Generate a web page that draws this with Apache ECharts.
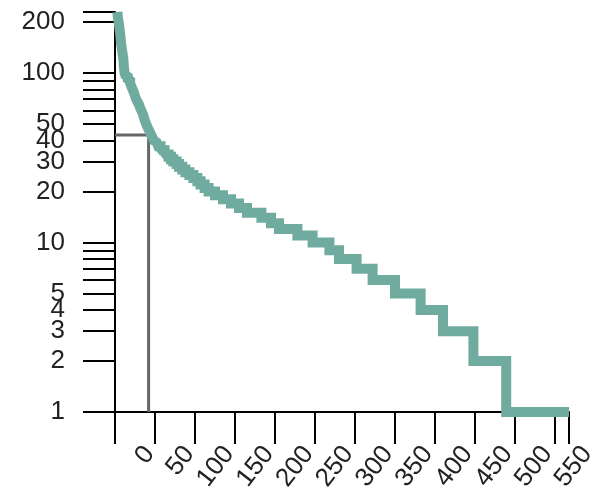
<!DOCTYPE html>
<html><head><meta charset="utf-8">
<script src="https://cdn.jsdelivr.net/npm/echarts@6/dist/echarts.min.js"></script>
<style>html,body{margin:0;padding:0;background:#fff;}#c{width:599px;height:494px;}</style>
</head><body><div id="c"></div>
<script>
// Step line: x = start of each plateau, y = value on that plateau
const rankX = [-47,-46.5,-45.5,-44.5,-43.5,-43,-42.5,-41.5,-40.5,-39.5,-39,-38,-37,-36,-34,-32.5,-31,-30,-29,-28,-26.5,-25.5,-24.5,-23.5,-21.5,-20,-18.5,-17,-15,-14,-12.5,-11,-9.5,-8.5,-7.5,-6.5,-5.5,-4.5,-3.5,-2.5,-1.5,0,2,4,7,9,12,14,17,20,23,27,30,34,38,43,48,53,57,62,67,75,85,95,105,115,133,145,155,178,197,218,230,252,272,300,332,360,398,439,517.5];
const countY = [229,215,200,185,170,160,150,140,130,120,110,100,97,95,92,90,87,85,82,80,77,75,72,70,67,65,62,60,57,55,52,50,48,47,46,45,44,43,42,41,40,39,38,37,36,35,34,33,32,31,30,29,28,27,26,25,24,23,22,21,20,19,18,17,16,15,14,13,12,11,10,9,8,7,6,5,4,3,2,1,1];
// Gray marker line
const markerX = [-50, -8, -8];
const markerY = [43, 43, 1];
// Axes
const xMin = -50, xMax = 517.5;
const xTickValues = [-50,0,50,100,150,200,250,300,350,400,450,500,517.5];
const xLabelValues = [0,50,100,150,200,250,300,350,400,450,500,550];
const yMax = 229;
const yTickValues = [1,2,3,4,5,6,7,8,9,10,20,30,40,50,60,70,80,90,100,200,229];
const yLabelValues = [1,2,3,4,5,10,20,30,40,50,100,200];

const lg = v => Math.log10(v);
const FONT = 'Liberation Sans';
const chart = echarts.init(document.getElementById('c'), null, {renderer:'canvas'});
chart.setOption({
  animation: false,
  backgroundColor: '#fff',
  grid: [
    {left: 115, top: 12, width: 454, height: 400},
    {left: 120, top: 12, width: 480, height: 400}
  ],
  xAxis: [
    {type:'value', gridIndex:0, min:xMin, max:xMax,
     axisLine:{show:true, onZero:false, lineStyle:{color:'#000', width:2}},
     axisTick:{show:true, length:32, customValues:xTickValues, lineStyle:{color:'#000', width:2}},
     axisLabel:{show:false}, splitLine:{show:false}},
    {type:'value', gridIndex:1, min:-50, max:550,
     axisLine:{show:false, onZero:false}, axisTick:{show:false}, splitLine:{show:false},
     axisLabel:{show:true, customValues:xLabelValues, rotate:52, margin:49, verticalAlign:'bottom',
       fontFamily:FONT, fontSize:26, color:'#222', formatter: v => String(v)}}
  ],
  yAxis: [
    {type:'value', gridIndex:0, min:0, max:lg(yMax),
     axisLine:{show:true, onZero:false, lineStyle:{color:'#000', width:2}},
     axisTick:{show:true, length:32, customValues:yTickValues.map(lg), lineStyle:{color:'#000', width:2}},
     axisLabel:{show:true, customValues:yLabelValues.map(lg), margin:50, fontFamily:FONT, fontSize:26, color:'#222',
       formatter: v => String(Math.round(Math.pow(10, v)))},
     splitLine:{show:false}},
    {type:'value', gridIndex:1, min:0, max:lg(yMax), show:false}
  ],
  series: [
    {type:'line', xAxisIndex:0, yAxisIndex:0, z:3, silent:true, showSymbol:false, clip:false,
     data: markerX.map((x,i)=>[x, lg(markerY[i])]),
     lineStyle:{color:'#666', width:3, join:'miter', cap:'butt'}},
    {type:'line', xAxisIndex:0, yAxisIndex:0, z:4, silent:true, step:'end', showSymbol:false, clip:false,
     data: rankX.map((x,i)=>[x, lg(countY[i])]),
     lineStyle:{color:'#6fab9e', width:10, join:'miter', cap:'butt'}}
  ]
});
</script>
</body></html>
